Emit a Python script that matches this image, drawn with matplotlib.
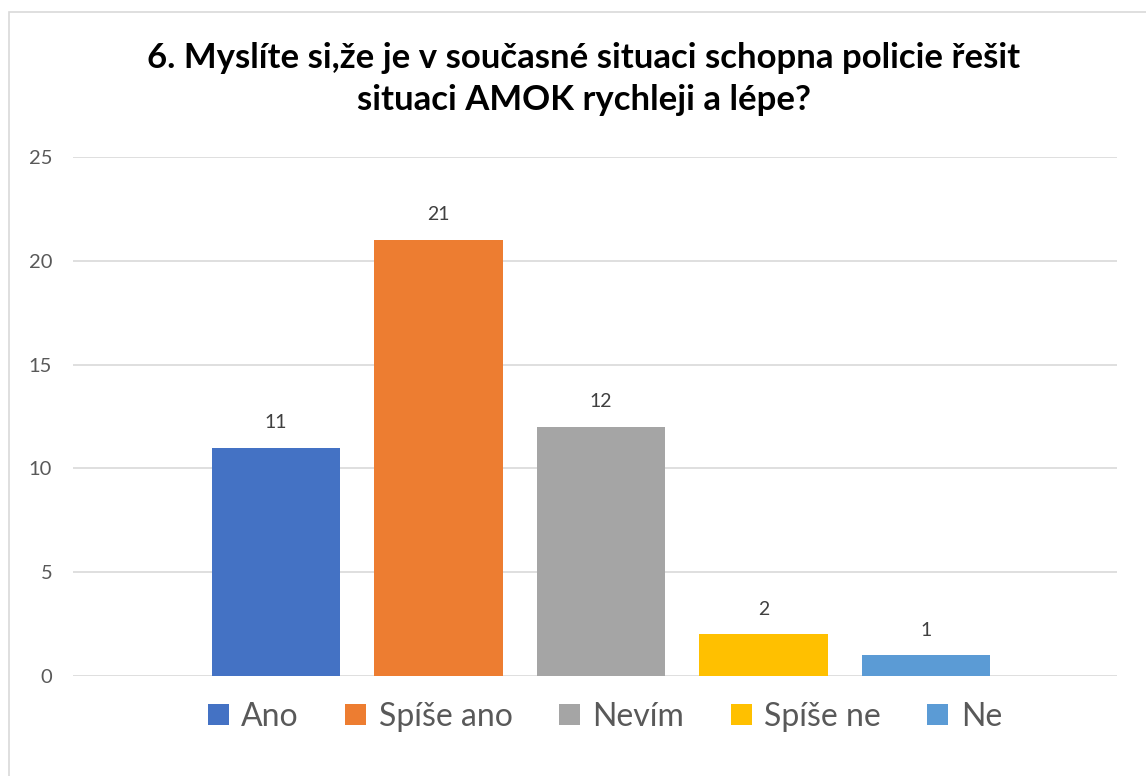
#!/usr/bin/env python
# Bar chart - survey question 6 (AMOK)

import matplotlib.pyplot as plt
from matplotlib.patches import Rectangle

labels = ['Ano', 'Spíše ano', 'Nevím', 'Spíše ne', 'Ne']
values = [11, 21, 12, 2, 1]
colors = ['#4472C4', '#ED7D31', '#A5A5A5', '#FFC000', '#5B9BD5']
yticks = [0, 5, 10, 15, 20, 25]

title = '6. Myslíte si,že je v současné situaci schopna policie řešit\nsituaci AMOK rychleji a lépe?'

plt.rcParams['font.family'] = ['Lato', 'DejaVu Sans']

W, H = 1146, 776
fig = plt.figure(figsize=(W / 100, H / 100), dpi=100)

# outer chart border (light grey)
fig.patches.append(Rectangle((9 / W, -0.1), 1.2, 1 - 12 / H + 0.1, transform=fig.transFigure,
                             fill=False, edgecolor='#D9D9D9', linewidth=1.2))

ax = fig.add_axes([73 / W, 1 - 676 / H, (1117 - 73) / W, (676 - 157) / H])

x = list(range(len(labels)))
bars = ax.bar(x, values, width=0.79, color=colors, label=labels, zorder=3)
for b, v in zip(bars, values):
    ax.annotate(str(v), (b.get_x() + b.get_width() / 2, v), xytext=(0, 12),
                textcoords='offset points', ha='center', va='bottom',
                fontsize=14, color='#404040')

ax.set_xlim(-1.25, 5.177)
ax.set_ylim(0, 25)
ax.set_yticks(yticks)
ax.set_xticks([])
ax.grid(axis='y', color='#D9D9D9', linewidth=1.2, zorder=0)
for s in ax.spines.values():
    s.set_visible(False)
ax.tick_params(axis='y', length=0, pad=15, labelsize=14.5, labelcolor='#595959')

fig.text(584 / W, 1 - 79 / H, title, ha='center', va='center', fontsize=25,
         fontweight='bold', color='black', linespacing=1.36)

fig.legend(bars, labels, loc='center', bbox_to_anchor=(605 / W, 1 - 717 / H), ncol=5,
           frameon=False, fontsize=23, labelcolor='#595959', handlelength=0.65,
           handleheight=0.65, handletextpad=0.4, columnspacing=1.45)

fig.savefig('out.png', dpi=100)
